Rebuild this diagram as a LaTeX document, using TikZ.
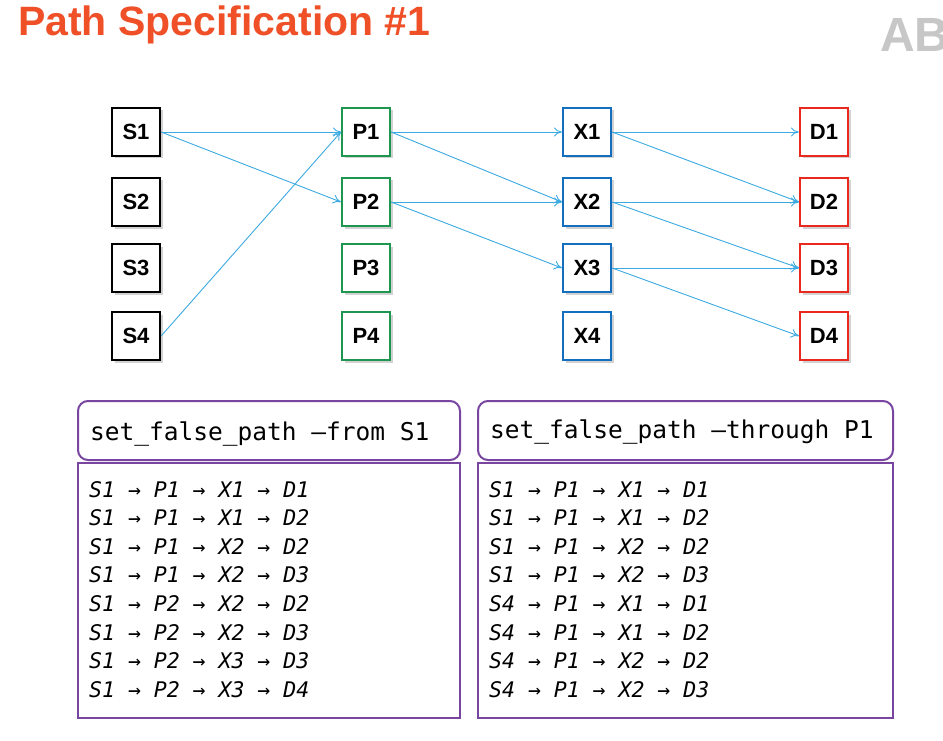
\documentclass[tikz,border=0pt]{standalone}
\usepackage{fontspec}
\setmainfont{Liberation Sans}
\newfontfamily\monof{DejaVu Sans Mono}
\usetikzlibrary{shadows,arrows.meta}
\definecolor{ttl}{RGB}{240,80,40}
\definecolor{sc}{RGB}{0,0,0}
\definecolor{pc}{RGB}{30,150,80}
\definecolor{xc}{RGB}{20,110,190}
\definecolor{dc}{RGB}{235,40,30}
\definecolor{ac}{RGB}{60,170,225}
\definecolor{pu}{RGB}{120,70,160}
\begin{document}
\begin{tikzpicture}[x=1pt,y=-1pt,
  nd/.style={draw=#1,line width=2.2pt,fill=white,minimum width=48pt,minimum height=48pt,inner sep=0pt,font=\bfseries\fontsize{22}{22}\selectfont,drop shadow={shadow xshift=2.5pt,shadow yshift=-2.5pt,opacity=0.35}},
  ar/.style={draw=ac,line width=0.9pt,-{To[length=8pt,width=9pt]}},
  hd/.style={draw=pu,line width=2pt,rounded corners=10pt},
  bd/.style={draw=pu,line width=2pt},
  ln/.style={anchor=base west,font=\monof\itshape\fontsize{21.5}{21.5}\selectfont}]
\useasboundingbox (0,0) rectangle (943,741);
\fill[white] (0,0) rectangle (943,741);
\node[anchor=base west,text=ttl,font=\bfseries\fontsize{41}{41}\selectfont,inner sep=0pt] (title) at (18,36) {Path Specification \#1};
\node[anchor=base west,text=black!22,font=\bfseries\fontsize{48}{48}\selectfont,inner sep=0pt] (logo) at (880,52) {AB};
\foreach \i/\y in {1/132,2/202,3/268,4/336}{
  \node[nd=sc] (S\i) at (136,\y) {S\i};
  \node[nd=pc] (P\i) at (366,\y) {P\i};
  \node[nd=xc] (X\i) at (587,\y) {X\i};
  \node[nd=dc] (D\i) at (824,\y) {D\i};
}
\foreach \a/\b in {S1/P1,S1/P2,S4/P1,P1/X1,P1/X2,P2/X2,P2/X3,X1/D1,X1/D2,X2/D2,X2/D3,X3/D3,X3/D4}
  \draw[ar] (\a.east) -- (\b.west);
\draw[hd] (78,401) rectangle (460,460);
\draw[bd] (78,463) rectangle (460,718);
\draw[hd] (478,401) rectangle (893,460);
\draw[bd] (478,463) rectangle (893,718);
\node[anchor=base west,font=\monof\fontsize{24.5}{24.5}\selectfont,inner sep=0pt] (h1) at (90,440) {set\_false\_path –from S1};
\node[anchor=base west,font=\monof\fontsize{24.5}{24.5}\selectfont,inner sep=0pt] (h2) at (490,438) {set\_false\_path –through P1};
\foreach \t [count=\k] in {S1 → P1 → X1 → D1,S1 → P1 → X1 → D2,S1 → P1 → X2 → D2,S1 → P1 → X2 → D3,S1 → P2 → X2 → D2,S1 → P2 → X2 → D3,S1 → P2 → X3 → D3,S1 → P2 → X3 → D4}
  \node[ln,inner sep=0pt] (l\k) at (89,{497+(\k-1)*28.6}) {\t};
\foreach \t [count=\k] in {S1 → P1 → X1 → D1,S1 → P1 → X1 → D2,S1 → P1 → X2 → D2,S1 → P1 → X2 → D3,S4 → P1 → X1 → D1,S4 → P1 → X1 → D2,S4 → P1 → X2 → D2,S4 → P1 → X2 → D3}
  \node[ln,inner sep=0pt] (r\k) at (489,{497+(\k-1)*28.6}) {\t};
\end{tikzpicture}
\end{document}
